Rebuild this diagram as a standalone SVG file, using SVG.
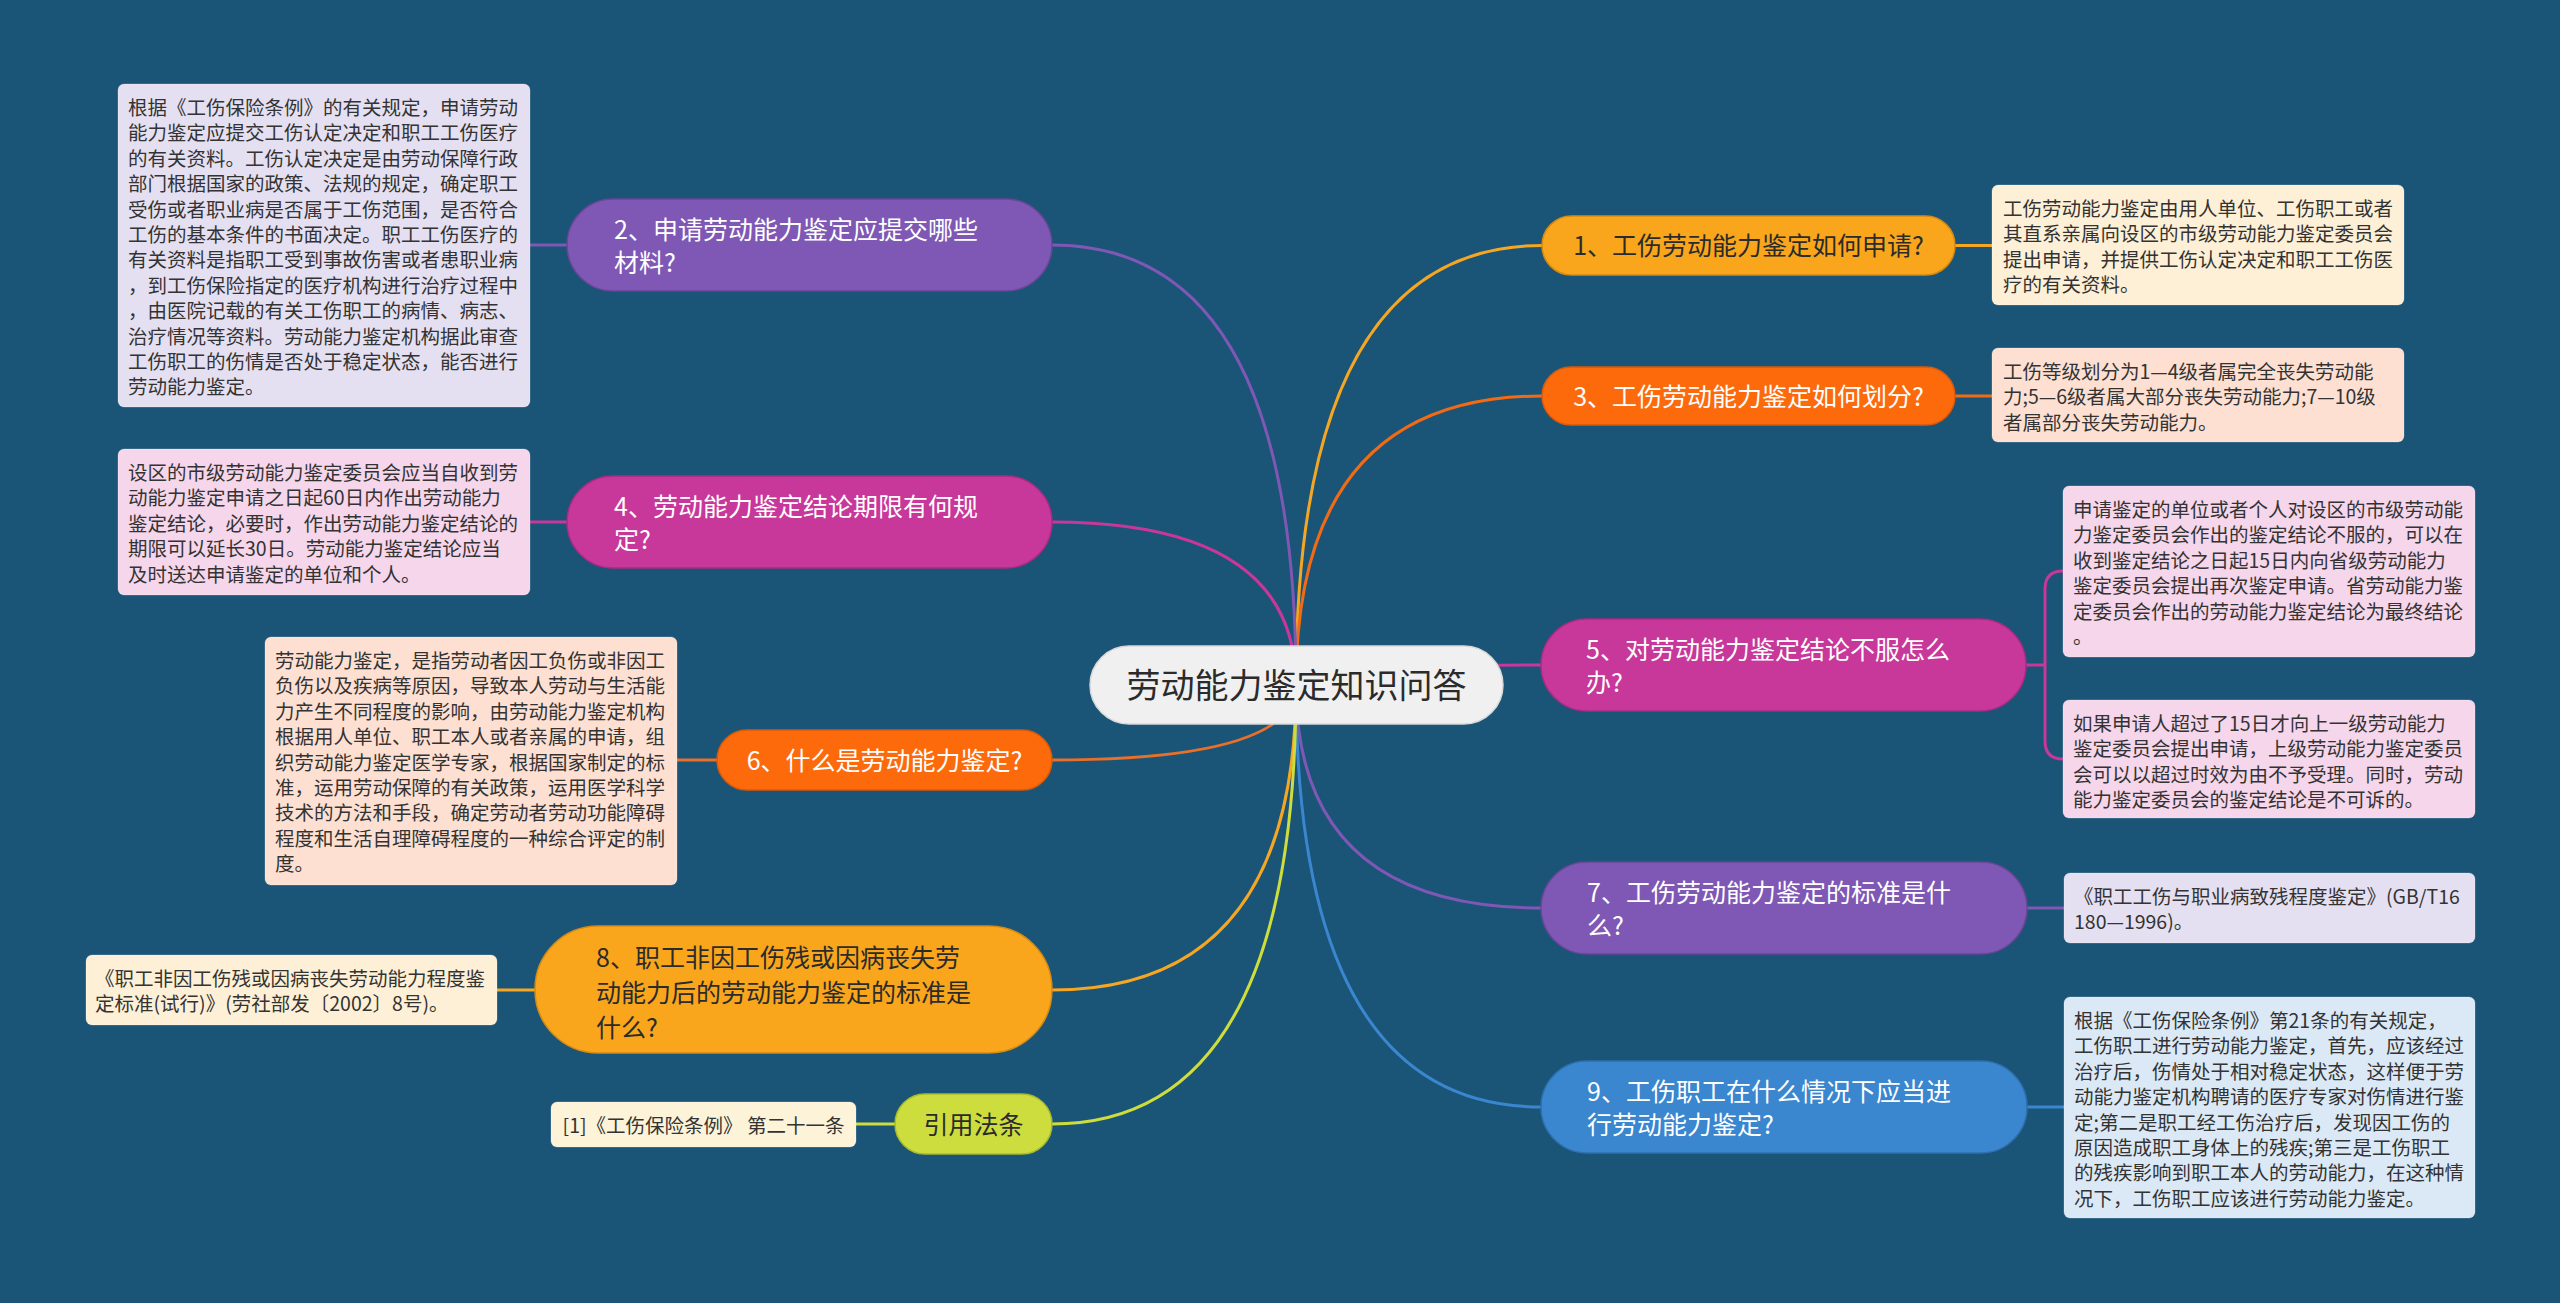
<svg xmlns="http://www.w3.org/2000/svg" width="2560" height="1303" viewBox="0 0 2560 1303">
<style>
text{font-family:"Noto Sans CJK SC","Noto Sans",sans-serif;dominant-baseline:central}
.leaf text{font-size:19.5px;fill:#333}
.nt{font-size:25px}
.w{fill:#fff}
.d{fill:#2b2b2b}
.br{fill:none;stroke-width:3;stroke-linecap:round}
.leafbox{stroke:#ffffff;stroke-opacity:0.25;stroke-width:1}
</style>
<rect width="2560" height="1303" fill="#1a5476"/>
<g id="connectors">
<path class="br" stroke="#f5a623" d="M1296 685 Q1296 245.5 1542 245.5"/>
<path class="br" stroke="#f26a14" d="M1296 685 Q1296 396 1542 396"/>
<path class="br" stroke="#c8379a" d="M1296 685 Q1296 665 1541 665"/>
<path class="br" stroke="#7e58b4" d="M1296 685 Q1296 908 1541 908"/>
<path class="br" stroke="#3a86cf" d="M1296 685 Q1296 1107 1541 1107"/>
<path class="br" stroke="#7e58b4" d="M1296 685 Q1296 245 1052 245"/>
<path class="br" stroke="#c8379a" d="M1296 685 Q1296 522 1052 522"/>
<path class="br" stroke="#e8702a" d="M1296 685 Q1296 760 1052 760"/>
<path class="br" stroke="#f5a623" d="M1296 685 Q1296 990 1052 990"/>
<path class="br" stroke="#cddd3e" d="M1296 685 Q1296 1124 1052 1124"/>
<path class="br" stroke="#f5a623" d="M1955 245.5 H1992"/>
<path class="br" stroke="#f26a14" d="M1955 396 H1992"/>
<path class="br" stroke="#c8379a" d="M2026 665 H2045 M2063 571 Q2045 571 2045 589 V741 Q2045 759 2063 759"/>
<path class="br" stroke="#7e58b4" d="M2027 908 H2064"/>
<path class="br" stroke="#3a86cf" d="M2027 1107 H2064"/>
<path class="br" stroke="#7e58b4" d="M567 245 H530"/>
<path class="br" stroke="#c8379a" d="M567 522 H530"/>
<path class="br" stroke="#e8702a" d="M717 760 H677"/>
<path class="br" stroke="#f5a623" d="M535 990 H497"/>
<path class="br" stroke="#cddd3e" d="M895 1124 H856"/>
</g>
<g id="center">
<rect x="1090" y="646" width="413" height="78" rx="39" fill="#f0f0f0" stroke="#d8d8d8" stroke-width="1.5"/>
<text x="1296.5" y="683" text-anchor="middle" font-size="34" fill="#2b2b2b">劳动能力鉴定知识问答</text>
</g>
<g id="n1">
<rect x="1542" y="216" width="413" height="59" rx="29.5" fill="#f9a61c" stroke="#d58a12" stroke-width="1.5"/>
<text class="nt d" x="1748.5" y="244" text-anchor="middle">1、工伤劳动能力鉴定如何申请?</text>
</g>
<g id="n3">
<rect x="1542" y="367" width="413" height="58" rx="29" fill="#fd6a0c" stroke="#d85a0a" stroke-width="1.5"/>
<text class="nt w" x="1748.5" y="394.5" text-anchor="middle">3、工伤劳动能力鉴定如何划分?</text>
</g>
<g id="n5">
<rect x="1541" y="619" width="485" height="92" rx="46" fill="#c8379a" stroke="#a82c82" stroke-width="1.5"/>
<text class="nt w" x="1586"><tspan x="1586" y="648">5、对劳动能力鉴定结论不服怎么</tspan><tspan x="1586" y="681">办?</tspan></text>
</g>
<g id="n7">
<rect x="1541" y="862" width="486" height="92" rx="46" fill="#7e58b4" stroke="#684696" stroke-width="1.5"/>
<text class="nt w"><tspan x="1587" y="891">7、工伤劳动能力鉴定的标准是什</tspan><tspan x="1587" y="924">么?</tspan></text>
</g>
<g id="n9">
<rect x="1541" y="1061" width="486" height="92" rx="46" fill="#3a86cf" stroke="#2e70b0" stroke-width="1.5"/>
<text class="nt w"><tspan x="1587" y="1090">9、工伤职工在什么情况下应当进</tspan><tspan x="1587" y="1123">行劳动能力鉴定?</tspan></text>
</g>
<g id="n2">
<rect x="567" y="199" width="485" height="92" rx="46" fill="#7e58b4" stroke="#684696" stroke-width="1.5"/>
<text class="nt w"><tspan x="614" y="228">2、申请劳动能力鉴定应提交哪些</tspan><tspan x="614" y="261">材料?</tspan></text>
</g>
<g id="n4">
<rect x="567" y="476" width="485" height="92" rx="46" fill="#c8379a" stroke="#a82c82" stroke-width="1.5"/>
<text class="nt w"><tspan x="614" y="505">4、劳动能力鉴定结论期限有何规</tspan><tspan x="614" y="538">定?</tspan></text>
</g>
<g id="n6">
<rect x="717" y="730" width="335" height="60" rx="30" fill="#fd6a0c" stroke="#d85a0a" stroke-width="1.5"/>
<text class="nt w" x="884.5" y="758.5" text-anchor="middle">6、什么是劳动能力鉴定?</text>
</g>
<g id="n8">
<rect x="535" y="926" width="517" height="127" rx="63" fill="#f9a61c" stroke="#d58a12" stroke-width="1.5"/>
<text class="nt d"><tspan x="596" y="956">8、职工非因工伤残或因病丧失劳</tspan><tspan x="596" y="991">动能力后的劳动能力鉴定的标准是</tspan><tspan x="596" y="1026">什么?</tspan></text>
</g>
<g id="nref">
<rect x="895" y="1094" width="157" height="60" rx="30" fill="#cddd3e" stroke="#aabb2a" stroke-width="1.5"/>
<text class="nt d" x="973.5" y="1122.5" text-anchor="middle">引用法条</text>
</g>
<g id="l1" class="leaf">
<rect class="leafbox" x="1992" y="185" width="412" height="120" rx="6" fill="#fdf0d6"/>
<text><tspan x="2003" y="207">工伤劳动能力鉴定由用人单位、工伤职工或者</tspan><tspan x="2003" y="232.4">其直系亲属向设区的市级劳动能力鉴定委员会</tspan><tspan x="2003" y="257.8">提出申请，并提供工伤认定决定和职工工伤医</tspan><tspan x="2003" y="283.2">疗的有关资料。</tspan></text>
</g>
<g id="l3" class="leaf">
<rect class="leafbox" x="1992" y="348" width="412" height="94" rx="6" fill="#fde0d2"/>
<text><tspan x="2003" y="370">工伤等级划分为1—4级者属完全丧失劳动能</tspan><tspan x="2003" y="395.4">力;5—6级者属大部分丧失劳动能力;7—10级</tspan><tspan x="2003" y="420.8">者属部分丧失劳动能力。</tspan></text>
</g>
<g id="l5a" class="leaf">
<rect class="leafbox" x="2063" y="486" width="412" height="171" rx="6" fill="#f6d6ea"/>
<text><tspan x="2073" y="508">申请鉴定的单位或者个人对设区的市级劳动能</tspan><tspan x="2073" y="533.4">力鉴定委员会作出的鉴定结论不服的，可以在</tspan><tspan x="2073" y="558.8">收到鉴定结论之日起15日内向省级劳动能力</tspan><tspan x="2073" y="584.2">鉴定委员会提出再次鉴定申请。省劳动能力鉴</tspan><tspan x="2073" y="609.6">定委员会作出的劳动能力鉴定结论为最终结论</tspan><tspan x="2073" y="635">。</tspan></text>
</g>
<g id="l5b" class="leaf">
<rect class="leafbox" x="2063" y="700" width="412" height="118" rx="6" fill="#f6d6ea"/>
<text><tspan x="2073" y="722">如果申请人超过了15日才向上一级劳动能力</tspan><tspan x="2073" y="747.4">鉴定委员会提出申请，上级劳动能力鉴定委员</tspan><tspan x="2073" y="772.8">会可以以超过时效为由不予受理。同时，劳动</tspan><tspan x="2073" y="798.2">能力鉴定委员会的鉴定结论是不可诉的。</tspan></text>
</g>
<g id="l7" class="leaf">
<rect class="leafbox" x="2064" y="873" width="411" height="70" rx="6" fill="#e5e0f1"/>
<text><tspan x="2074" y="895">《职工工伤与职业病致残程度鉴定》(GB/T16</tspan><tspan x="2074" y="920.4">180—1996)。</tspan></text>
</g>
<g id="l9" class="leaf">
<rect class="leafbox" x="2064" y="997" width="411" height="221" rx="6" fill="#dbe9f6"/>
<text><tspan x="2074" y="1019">根据《工伤保险条例》第21条的有关规定，</tspan><tspan x="2074" y="1044.4">工伤职工进行劳动能力鉴定，首先，应该经过</tspan><tspan x="2074" y="1069.8">治疗后，伤情处于相对稳定状态，这样便于劳</tspan><tspan x="2074" y="1095.2">动能力鉴定机构聘请的医疗专家对伤情进行鉴</tspan><tspan x="2074" y="1120.6">定;第二是职工经工伤治疗后，发现因工伤的</tspan><tspan x="2074" y="1146">原因造成职工身体上的残疾;第三是工伤职工</tspan><tspan x="2074" y="1171.4">的残疾影响到职工本人的劳动能力，在这种情</tspan><tspan x="2074" y="1196.8">况下，工伤职工应该进行劳动能力鉴定。</tspan></text>
</g>
<g id="l2" class="leaf">
<rect class="leafbox" x="118" y="84" width="412" height="323" rx="6" fill="#e5e0f1"/>
<text><tspan x="128" y="106">根据《工伤保险条例》的有关规定，申请劳动</tspan><tspan x="128" y="131.4">能力鉴定应提交工伤认定决定和职工工伤医疗</tspan><tspan x="128" y="156.8">的有关资料。工伤认定决定是由劳动保障行政</tspan><tspan x="128" y="182.2">部门根据国家的政策、法规的规定，确定职工</tspan><tspan x="128" y="207.6">受伤或者职业病是否属于工伤范围，是否符合</tspan><tspan x="128" y="233">工伤的基本条件的书面决定。职工工伤医疗的</tspan><tspan x="128" y="258.4">有关资料是指职工受到事故伤害或者患职业病</tspan><tspan x="128" y="283.8">，到工伤保险指定的医疗机构进行治疗过程中</tspan><tspan x="128" y="309.2">，由医院记载的有关工伤职工的病情、病志、</tspan><tspan x="128" y="334.6">治疗情况等资料。劳动能力鉴定机构据此审查</tspan><tspan x="128" y="360">工伤职工的伤情是否处于稳定状态，能否进行</tspan><tspan x="128" y="385.4">劳动能力鉴定。</tspan></text>
</g>
<g id="l4" class="leaf">
<rect class="leafbox" x="118" y="449" width="412" height="146" rx="6" fill="#f6d6ea"/>
<text><tspan x="128" y="471">设区的市级劳动能力鉴定委员会应当自收到劳</tspan><tspan x="128" y="496.4">动能力鉴定申请之日起60日内作出劳动能力</tspan><tspan x="128" y="521.8">鉴定结论，必要时，作出劳动能力鉴定结论的</tspan><tspan x="128" y="547.2">期限可以延长30日。劳动能力鉴定结论应当</tspan><tspan x="128" y="572.6">及时送达申请鉴定的单位和个人。</tspan></text>
</g>
<g id="l6" class="leaf">
<rect class="leafbox" x="265" y="637" width="412" height="248" rx="6" fill="#fde0d2"/>
<text><tspan x="275" y="659">劳动能力鉴定，是指劳动者因工负伤或非因工</tspan><tspan x="275" y="684.4">负伤以及疾病等原因，导致本人劳动与生活能</tspan><tspan x="275" y="709.8">力产生不同程度的影响，由劳动能力鉴定机构</tspan><tspan x="275" y="735.2">根据用人单位、职工本人或者亲属的申请，组</tspan><tspan x="275" y="760.6">织劳动能力鉴定医学专家，根据国家制定的标</tspan><tspan x="275" y="786">准，运用劳动保障的有关政策，运用医学科学</tspan><tspan x="275" y="811.4">技术的方法和手段，确定劳动者劳动功能障碍</tspan><tspan x="275" y="836.8">程度和生活自理障碍程度的一种综合评定的制</tspan><tspan x="275" y="862.2">度。</tspan></text>
</g>
<g id="l8" class="leaf">
<rect class="leafbox" x="86" y="955" width="411" height="70" rx="6" fill="#fdf0d6"/>
<text><tspan x="95" y="977">《职工非因工伤残或因病丧失劳动能力程度鉴</tspan><tspan x="95" y="1002.4">定标准(试行)》(劳社部发〔2002〕8号)。</tspan></text>
</g>
<g id="lref" class="leaf">
<rect class="leafbox" x="551" y="1102" width="305" height="45" rx="6" fill="#fdf3d9"/>
<text x="703.5" y="1124.5" text-anchor="middle">[1]《工伤保险条例》 第二十一条</text>
</g>
</svg>
